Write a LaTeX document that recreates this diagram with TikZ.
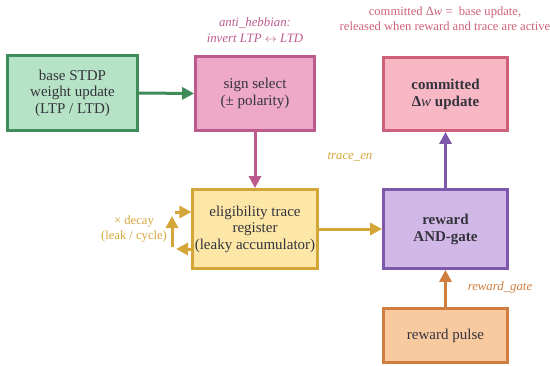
\documentclass[tikz,border=0pt]{standalone}
\usepackage{fontspec}
\setmainfont{Liberation Serif}
\usetikzlibrary{arrows.meta}

\definecolor{grnfill}{HTML}{B6E3C6}
\definecolor{grnline}{HTML}{3D8C5A}
\definecolor{pnkfill}{HTML}{EEA8C8}
\definecolor{pnkline}{HTML}{BC5A8E}
\definecolor{comfill}{HTML}{F7B7C4}
\definecolor{comline}{HTML}{CF6079}
\definecolor{yelfill}{HTML}{FCE7A6}
\definecolor{yelline}{HTML}{D4A63A}
\definecolor{purfill}{HTML}{D2B8E6}
\definecolor{purline}{HTML}{7E58AB}
\definecolor{orgfill}{HTML}{F9C9A0}
\definecolor{orgline}{HTML}{CF7E40}
\definecolor{boxtext}{HTML}{33333D}

\tikzset{
  blockbox/.style={rectangle, draw, line width=2.8pt, align=center,
    text=boxtext, font=\fontsize{15}{16.5}\selectfont, inner sep=2pt},
  flow/.style={line width=3pt, -{Triangle[length=12pt,width=12pt]}},
  note/.style={align=center, font=\fontsize{12.6}{15}\selectfont},
}

\begin{document}
\begin{tikzpicture}[x=1pt,y=-1pt]
\useasboundingbox (0,0) rectangle (550,365);

% blocks
\node[blockbox, fill=grnfill, draw=grnline, minimum width=130pt, minimum height=75pt]
  (stdp) at (72.5,93) {base STDP\\weight update\\(LTP / LTD)};
\node[blockbox, fill=pnkfill, draw=pnkline, minimum width=119pt, minimum height=74pt]
  (sign) at (255,93.5) {sign select\\(± polarity)};
\node[blockbox, fill=comfill, draw=comline, minimum width=124pt, minimum height=73pt,
  font=\fontsize{15}{17}\selectfont\bfseries]
  (commit) at (445.5,94) {committed\\Δ{\normalfont\itshape w} update};
\node[blockbox, fill=yelfill, draw=yelline, minimum width=119pt, minimum height=79pt]
  (trace) at (255,229) {eligibility trace\\register\\(leaky accumulator)};
\node[blockbox, fill=purfill, draw=purline, minimum width=124pt, minimum height=79pt,
  font=\fontsize{15}{17}\selectfont\bfseries]
  (gate) at (445.5,229) {reward\\AND-gate};
\node[blockbox, fill=orgfill, draw=orgline, minimum width=124pt, minimum height=54pt]
  (pulse) at (445.5,335.5) {reward pulse};

% connectors
\draw[flow, grnline] (stdp.east) -- (sign.west);
\draw[flow, pnkline] (sign.south) -- (trace.north);
\draw[flow, yelline] (trace.east) -- (gate.west);
\draw[flow, purline] (gate.north) -- (commit.south);
\draw[flow, orgline] (pulse.north) -- (gate.south);

% leak loop on the trace register
\coordinate (leakout) at (176,249);
\coordinate (leakup0) at (172,247);
\coordinate (leakup1) at (172,216);
\coordinate (leakin) at (175,212);
\draw[flow, yelline] (trace.west |- leakout) -- (leakout);
\draw[flow, yelline] (leakup0) -- (leakup1);
\draw[flow, yelline] (leakin) -- (trace.west |- leakin);

% annotations
\node[note, text=pnkline, font=\fontsize{12.8}{15.5}\selectfont\itshape]
  (antih) at (255,30) {anti\_hebbian:\\invert LTP $\leftrightarrow$ LTD};
\node[note, text=comline] (commitnote) at (445,19)
  {committed Δ\textit{w} =\ \ base update,\\released when reward and trace are active};
\node[note, text=yelline, font=\fontsize{12.8}{15.5}\selectfont\itshape]
  (tracen) at (350,157) {trace\_en};
\node[note, text=yelline] (decay) at (134,229) {× decay\\(leak / cycle)};
\node[note, text=orgline, font=\fontsize{12.8}{15.5}\selectfont\itshape]
  (rgate) at (500,287) {reward\_gate};
\end{tikzpicture}
\end{document}
